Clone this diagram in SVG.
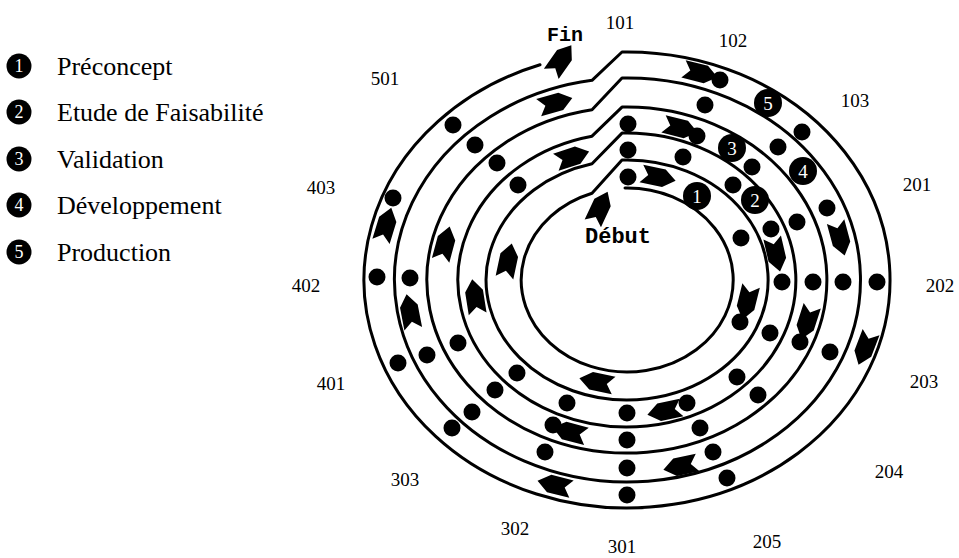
<svg xmlns="http://www.w3.org/2000/svg" xmlns:xlink="http://www.w3.org/1999/xlink" width="959" height="558" viewBox="0 0 959 558">
<style>
.wall{fill:none;stroke:#000;stroke-width:3;stroke-linejoin:round;stroke-linecap:round}
.dot{fill:#000}
.mk{fill:#000}
.mkt{fill:#fff;font-family:"Liberation Serif","Times New Roman",serif;font-size:19px;text-anchor:middle}
.lbl{fill:#000;font-family:"Liberation Serif","Times New Roman",serif;font-size:19px;text-anchor:middle}
.leg{fill:#000;font-family:"Liberation Serif","Times New Roman",serif;font-size:26px}
.legn{fill:#fff;font-family:"Liberation Serif","Times New Roman",serif;font-size:18px;text-anchor:middle}
.mono{fill:#000;font-family:"Liberation Mono","Courier New",monospace;font-weight:bold}
</style>
<defs>
<path id="arr" d="M -17,-9 L 6,-9 L 18,0 L 6,9 L -17,9 L -10,0 Z" fill="#000"/>
</defs>
<rect width="959" height="558" fill="#fff"/>

<g id="legend">
<g id="leg1"><circle cx="19" cy="66" r="12.5" class="mk"/><text x="19" y="72" class="legn">1</text><text x="57" y="75" class="leg">Préconcept</text></g>
<g id="leg2"><circle cx="19" cy="112" r="12.5" class="mk"/><text x="19" y="118" class="legn">2</text><text x="57" y="121" class="leg">Etude de Faisabilité</text></g>
<g id="leg3"><circle cx="19" cy="159" r="12.5" class="mk"/><text x="19" y="165" class="legn">3</text><text x="57" y="168" class="leg">Validation</text></g>
<g id="leg4"><circle cx="19" cy="205" r="12.5" class="mk"/><text x="19" y="211" class="legn">4</text><text x="57" y="214" class="leg">Développement</text></g>
<g id="leg5"><circle cx="19" cy="252" r="12.5" class="mk"/><text x="19" y="258" class="legn">5</text><text x="57" y="261" class="leg">Production</text></g>
</g>

<g id="connectors">
<path id="spiral" class="wall" d="M 625,188 A 106 92 0 1 1 592,193.2 L 622,160.1 A 141 120 0 1 1 592,163.8 L 622,133.1 A 169 147 0 1 1 592,136.2 L 622,107.1 A 200 173 0 1 1 592,109.7 L 622,78 A 233 202 0 1 1 592,80.3 L 622,52 A 263 228 0 1 1 540,64.8"/>
</g>

<g id="arrows">
<use xlink:href="#arr" href="#arr" transform="translate(555,103) rotate(-16)"/>
<use xlink:href="#arr" href="#arr" transform="translate(700,73) rotate(14)"/>
<use xlink:href="#arr" href="#arr" transform="translate(572,157) rotate(-18)"/>
<use xlink:href="#arr" href="#arr" transform="translate(658,177) rotate(12)"/>
<use xlink:href="#arr" href="#arr" transform="translate(680,128) rotate(14)"/>
<use xlink:href="#arr" href="#arr" transform="translate(776,254) rotate(77)"/>
<use xlink:href="#arr" href="#arr" transform="translate(840,238) rotate(75)"/>
<use xlink:href="#arr" href="#arr" transform="translate(747,302) rotate(104)"/>
<use xlink:href="#arr" href="#arr" transform="translate(807,322) rotate(108)"/>
<use xlink:href="#arr" href="#arr" transform="translate(865,348) rotate(111)"/>
<use xlink:href="#arr" href="#arr" transform="translate(597,382) rotate(192)"/>
<use xlink:href="#arr" href="#arr" transform="translate(665,411) rotate(168)"/>
<use xlink:href="#arr" href="#arr" transform="translate(681,466) rotate(168)"/>
<use xlink:href="#arr" href="#arr" transform="translate(570,432) rotate(195)"/>
<use xlink:href="#arr" href="#arr" transform="translate(555,485) rotate(194)"/>
<use xlink:href="#arr" href="#arr" transform="translate(508,261) rotate(-78)"/>
<use xlink:href="#arr" href="#arr" transform="translate(475,297) rotate(-99)"/>
<use xlink:href="#arr" href="#arr" transform="translate(445,244) rotate(-75)"/>
<use xlink:href="#arr" href="#arr" transform="translate(410,312) rotate(-101)"/>
<use xlink:href="#arr" href="#arr" transform="translate(386,225) rotate(-73)"/>
<use xlink:href="#arr" href="#arr" transform="translate(561,60) rotate(-55)"/>
<use xlink:href="#arr" href="#arr" transform="translate(600,208) rotate(-65)"/>
</g>

<g id="dots">
<circle class="dot" cx="628" cy="177" r="8.5"/><circle class="dot" cx="741" cy="238" r="8.5"/><circle class="dot" cx="740" cy="322" r="8.5"/>
<circle class="dot" cx="628" cy="150" r="8.5"/><circle class="dot" cx="683" cy="157" r="8.5"/><circle class="dot" cx="733" cy="185" r="8.5"/><circle class="dot" cx="771" cy="229" r="8.5"/><circle class="dot" cx="782" cy="282" r="8.5"/><circle class="dot" cx="770" cy="333" r="8.5"/><circle class="dot" cx="737" cy="377" r="8.5"/><circle class="dot" cx="687" cy="403" r="8.5"/><circle class="dot" cx="627" cy="413" r="8.5"/><circle class="dot" cx="567" cy="403" r="8.5"/><circle class="dot" cx="517" cy="373" r="8.5"/><circle class="dot" cx="518" cy="185" r="8.5"/>
<circle class="dot" cx="628" cy="124" r="8.5"/><circle class="dot" cx="697" cy="136" r="8.5"/><circle class="dot" cx="752" cy="167" r="8.5"/><circle class="dot" cx="797" cy="222" r="8.5"/><circle class="dot" cx="813" cy="282" r="8.5"/><circle class="dot" cx="800" cy="342" r="8.5"/><circle class="dot" cx="758" cy="395" r="8.5"/><circle class="dot" cx="700" cy="428" r="8.5"/><circle class="dot" cx="627" cy="440" r="8.5"/><circle class="dot" cx="553" cy="425" r="8.5"/><circle class="dot" cx="495" cy="390" r="8.5"/><circle class="dot" cx="458" cy="343" r="8.5"/><circle class="dot" cx="497" cy="163" r="8.5"/>
<circle class="dot" cx="705" cy="105" r="8.5"/><circle class="dot" cx="778" cy="147" r="8.5"/><circle class="dot" cx="827" cy="208" r="8.5"/><circle class="dot" cx="843" cy="282" r="8.5"/><circle class="dot" cx="830" cy="352" r="8.5"/><circle class="dot" cx="713" cy="452" r="8.5"/><circle class="dot" cx="627" cy="468" r="8.5"/><circle class="dot" cx="545" cy="452" r="8.5"/><circle class="dot" cx="472" cy="412" r="8.5"/><circle class="dot" cx="427" cy="355" r="8.5"/><circle class="dot" cx="410" cy="278" r="8.5"/><circle class="dot" cx="475" cy="145" r="8.5"/>
<circle class="dot" cx="720" cy="80" r="8.5"/><circle class="dot" cx="802" cy="132" r="8.5"/><circle class="dot" cx="877" cy="282" r="8.5"/><circle class="dot" cx="727" cy="478" r="8.5"/><circle class="dot" cx="627" cy="495" r="8.5"/><circle class="dot" cx="452" cy="428" r="8.5"/><circle class="dot" cx="398" cy="363" r="8.5"/><circle class="dot" cx="377" cy="277" r="8.5"/><circle class="dot" cx="393" cy="198" r="8.5"/><circle class="dot" cx="453" cy="125" r="8.5"/>
</g>

<g id="markers">
<g id="m1"><circle cx="697" cy="196" r="14" class="mk"/><text x="697" y="203" class="mkt">1</text></g>
<g id="m2"><circle cx="755" cy="200" r="14" class="mk"/><text x="755" y="207" class="mkt">2</text></g>
<g id="m3"><circle cx="732" cy="148" r="14" class="mk"/><text x="732" y="155" class="mkt">3</text></g>
<g id="m4"><circle cx="803" cy="171" r="14" class="mk"/><text x="803" y="178" class="mkt">4</text></g>
<g id="m5"><circle cx="768" cy="103" r="14" class="mk"/><text x="768" y="110" class="mkt">5</text></g>
</g>

<g id="labels">
<text x="620" y="29" class="lbl">101</text>
<text x="733" y="47" class="lbl">102</text>
<text x="855" y="107" class="lbl">103</text>
<text x="917" y="191" class="lbl">201</text>
<text x="940" y="292" class="lbl">202</text>
<text x="924" y="388" class="lbl">203</text>
<text x="889" y="478" class="lbl">204</text>
<text x="767" y="548" class="lbl">205</text>
<text x="622" y="553" class="lbl">301</text>
<text x="515" y="535" class="lbl">302</text>
<text x="405" y="486" class="lbl">303</text>
<text x="331" y="390" class="lbl">401</text>
<text x="306" y="292" class="lbl">402</text>
<text x="321" y="194" class="lbl">403</text>
<text x="385" y="85" class="lbl">501</text>
<text x="547" y="41" class="mono" font-size="20">Fin</text>
<text x="585" y="243" class="mono" font-size="22">Début</text>
</g>
</svg>
